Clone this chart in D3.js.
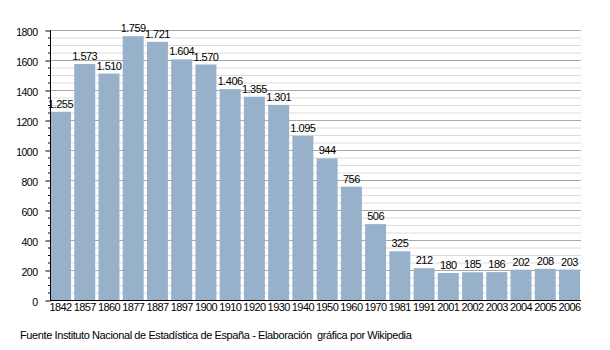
<!DOCTYPE html>
<html><head><meta charset="utf-8">
<script src="https://cdn.jsdelivr.net/npm/d3@7"></script>
<style>body{margin:0;background:#fff}svg{display:block}text{font-family:"Liberation Sans",Arial,sans-serif}</style>
</head><body><svg id="c" width="610" height="350"></svg>
<script>
const years = ["1842","1857","1860","1877","1887","1897","1900","1910","1920","1930","1940","1950","1960","1970","1981","1991","2001","2002","2003","2004","2005","2006"];
const population = [1255,1573,1510,1759,1721,1604,1570,1406,1355,1301,1095,944,756,506,325,212,180,185,186,202,208,203];
const yTicks = [0,200,400,600,800,1000,1200,1400,1600,1800];
const sourceText = "Fuente Instituto Nacional de Estadística de España - Elaboración  gráfica por Wikipedia";

const svg = d3.select("#c");
const x = d3.scaleBand().domain(years).range([50,580]).paddingInner(0.134).paddingOuter(0).align(0);
const y = d3.scaleLinear().domain([0,1800]).range([300,30]);
const minor = d3.range(0,1801,50);

// grid
svg.append("g").selectAll("line").data(minor.filter(v=>v%200!==0)).join("line")
  .attr("x1",50).attr("x2",581).attr("y1",d=>y(d)+0.5).attr("y2",d=>y(d)+0.5)
  .attr("stroke","#dcdcdc").attr("stroke-width",1);
svg.append("g").selectAll("line").data(yTicks.filter(v=>v>0)).join("line")
  .attr("x1",50).attr("x2",581).attr("y1",d=>y(d)+0.5).attr("y2",d=>y(d)+0.5)
  .attr("stroke","#a8a8a8").attr("stroke-width",1);

// bars
svg.append("g").selectAll("rect").data(population).join("rect")
  .attr("x",(d,i)=>x(years[i])).attr("width",x.bandwidth())
  .attr("y",d=>y(d)).attr("height",d=>y(0)-y(d)).attr("fill","#98b1cb");

// value labels
const fmt = v => v>=1000 ? d3.format(",")(v).replace(",",".") : String(v);
svg.append("g").selectAll("text").data(population).join("text")
  .attr("x",(d,i)=>x(years[i])+x.bandwidth()/2).attr("y",d=>y(d)-4)
  .attr("text-anchor","middle").attr("font-size","11px").attr("letter-spacing","-0.5px").attr("fill","#000").text(fmt);

// y axis
const ya = svg.append("g").attr("transform","translate(50.5,0.5)")
  .call(d3.axisLeft(y).tickValues(yTicks).tickSize(5).tickPadding(8).tickFormat(d3.format("d")));
ya.select(".domain").attr("d","M0,"+(y(1800))+"V"+y(0));
ya.selectAll("text").attr("font-size","10.5px").attr("letter-spacing","-0.5px").attr("dy","0.45em")
  .attr("font-family","Liberation Sans, Arial, sans-serif");
svg.append("g").attr("transform","translate(50.5,0.5)").selectAll("line").data(minor.filter(v=>v%200!==0)).join("line")
  .attr("x1",-2.5).attr("x2",0).attr("y1",d=>y(d)).attr("y2",d=>y(d)).attr("stroke","#000");

// x axis
const xa = svg.append("g").attr("transform","translate(0,300.5)")
  .call(d3.axisBottom(x).tickSize(0).tickPadding(3));
xa.select(".domain").attr("d","M50,0H581");
xa.selectAll("text").attr("font-size","11px").attr("letter-spacing","-0.6px")
  .attr("font-family","Liberation Sans, Arial, sans-serif");

// source
svg.append("text").attr("x",20).attr("y",339).attr("font-size","11px").attr("letter-spacing","-0.4px")
  .style("white-space","pre").text(sourceText);
</script></body></html>
